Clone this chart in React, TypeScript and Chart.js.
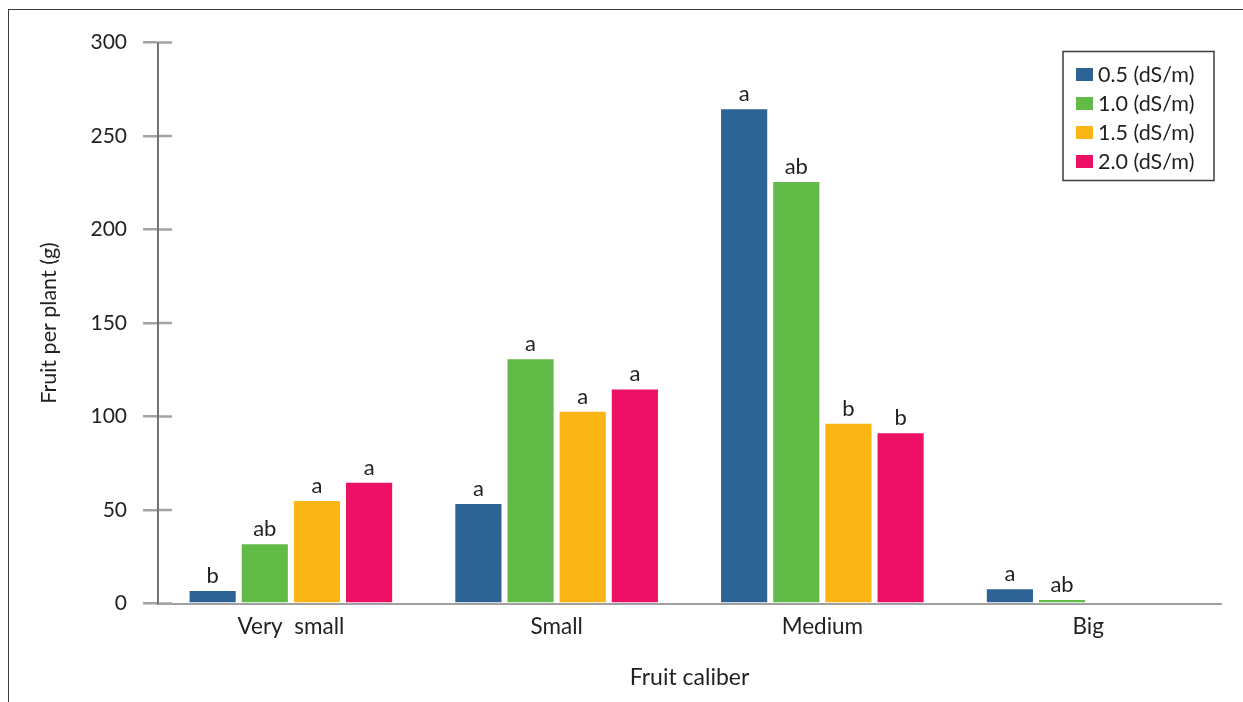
import React, { useEffect, useRef } from "react";
import { Chart, registerables } from "chart.js";

Chart.register(...registerables);

const categories = ["Very  small", "Small", "Medium", "Big"];
const seriesLabels = ["0.5 (dS/m)", "1.0 (dS/m)", "1.5 (dS/m)", "2.0 (dS/m)"];
const seriesColors = ["#2d6395", "#62bb47", "#fbb616", "#ec1164"];
const s05 = [6.7, 53.2, 264.3, 7.6];
const s10 = [31.7, 130.6, 225.4, 1.9];
const s15 = [54.8, 102.6, 96.1, null];
const s20 = [64.6, 114.5, 91.0, null];
const letters05 = ["b", "a", "a", "a"];
const letters10 = ["ab", "a", "ab", "ab"];
const letters15 = ["a", "a", "b", ""];
const letters20 = ["a", "a", "b", ""];
const yTicks = [0, 50, 100, 150, 200, 250, 300];
const xTitle = "Fruit caliber";
const yTitle = "Fruit per plant (g)";

const FONT = 'Lato, "Open Sans", sans-serif';
const TEXT = "#231f20";

const letterSets = [letters05, letters10, letters15, letters20];

const innerTicks = {
  id: "innerTicks",
  afterDraw(chart: any) {
    const ctx = chart.ctx;
    const y = chart.scales.y;
    const left = chart.chartArea.left;
    ctx.save();
    ctx.strokeStyle = "#a3a3a3";
    ctx.lineWidth = 2.5;
    yTicks.forEach((v) => {
      const py = y.getPixelForValue(v);
      ctx.beginPath();
      ctx.moveTo(left, py);
      ctx.lineTo(left + 14, py);
      ctx.stroke();
    });
    ctx.strokeStyle = "#6e6e6e";
    ctx.lineWidth = 1.6;
    ctx.beginPath();
    ctx.moveTo(left, y.getPixelForValue(300));
    ctx.lineTo(left, y.getPixelForValue(0));
    ctx.stroke();
    ctx.restore();
  },
};

const barLetters = {
  id: "barLetters",
  afterDatasetsDraw(chart: any) {
    const ctx = chart.ctx;
    ctx.save();
    ctx.fillStyle = TEXT;
    ctx.font = `22px ${FONT}`;
    ctx.textAlign = "center";
    ctx.textBaseline = "alphabetic";
    chart.data.datasets.forEach((_ds: any, i: number) => {
      const meta = chart.getDatasetMeta(i);
      meta.data.forEach((bar: any, j: number) => {
        const t = letterSets[i][j];
        if (!t) return;
        ctx.fillText(t, bar.x, bar.y - 8);
      });
    });
    ctx.restore();
  },
};

const boxLegend = {
  id: "boxLegend",
  afterDraw(chart: any) {
    const ctx = chart.ctx;
    const ca = chart.chartArea;
    const w = 151;
    const h = 129;
    const x0 = ca.right - 7 - w;
    const y0 = ca.top + 9;
    ctx.save();
    ctx.strokeStyle = "#3c3c3c";
    ctx.lineWidth = 1.5;
    ctx.strokeRect(x0, y0, w, h);
    ctx.font = `21.5px ${FONT}`;
    ctx.textBaseline = "middle";
    ctx.textAlign = "left";
    chart.data.datasets.forEach((ds: any, i: number) => {
      const cy = y0 + 23 + i * 29;
      ctx.fillStyle = ds.backgroundColor;
      ctx.fillRect(x0 + 13, cy - 6.5, 17, 13);
      ctx.fillStyle = TEXT;
      ctx.fillText(ds.label, x0 + 35, cy + 1);
    });
    ctx.restore();
  },
};

export default function App() {
  const ref = useRef<HTMLCanvasElement | null>(null);
  useEffect(() => {
    if (!ref.current) return;
    const seriesData = [s05, s10, s15, s20];
    const chart = new Chart(ref.current, {
      type: "bar",
      data: {
        labels: categories,
        datasets: seriesData.map((d, i) => ({
          label: seriesLabels[i],
          data: d as any,
          backgroundColor: seriesColors[i],
          borderWidth: 0,
          categoryPercentage: 0.785,
          barPercentage: 0.885,
        })),
      },
      options: {
        responsive: false,
        animation: false,
        layout: { padding: { left: 20, right: 22, top: 42.5, bottom: 0 } },
        plugins: { legend: { display: false }, tooltip: { enabled: false }, title: { display: false } },
        scales: {
          x: {
            grid: { display: false, drawTicks: false },
            border: { display: true, color: "#a0a0a0", width: 2 },
            ticks: { color: TEXT, font: { family: FONT, size: 22.5 }, padding: 10 },
            title: { display: true, text: xTitle, color: TEXT, font: { family: FONT, size: 23 }, padding: { top: 0, bottom: 10.5 } },
            afterFit: (s: any) => { s.height = 98.5; },
          },
          y: {
            min: 0,
            max: 300,
            afterBuildTicks: (s: any) => { s.ticks = yTicks.map((v) => ({ value: v })); },
            grid: { display: true, drawOnChartArea: false, drawTicks: true, tickLength: 15, color: "#a3a3a3", lineWidth: 2.5 },
            border: { display: true, color: "#6e6e6e", width: 1.6 },
            ticks: { color: TEXT, font: { family: FONT, size: 21 }, padding: 16 },
            title: { display: true, text: yTitle, color: TEXT, font: { family: FONT, size: 21.5 }, padding: { top: 16, bottom: 0 } },
            afterFit: (s: any) => { s.width = 138; },
          },
        },
      },
      plugins: [barLetters, innerTicks, boxLegend],
    });
    return () => chart.destroy();
  }, []);
  return (
    <div style={{ position: "absolute", left: 0, top: 0, width: 1243, height: 702, background: "#fff", overflow: "hidden" }}>
      <div style={{ position: "absolute", left: 8, top: 9, right: -10, bottom: -10, borderTop: "1.5px solid #3a3a3a", borderLeft: "1.5px solid #3a3a3a" }} />
      <canvas ref={ref} width={1243} height={702} style={{ position: "absolute", left: 0, top: 0, width: 1243, height: 702 }} />
    </div>
  );
}
